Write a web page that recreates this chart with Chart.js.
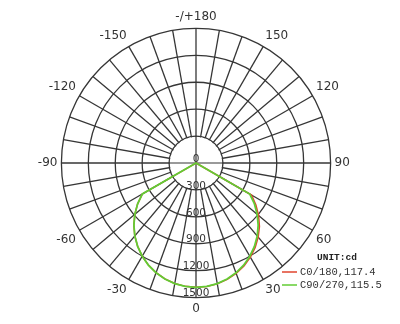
<!DOCTYPE html>
<html>
<head>
<meta charset="utf-8">
<script src="https://cdn.jsdelivr.net/npm/chart.js@4/dist/chart.umd.min.js"></script>
<style>
  body { margin: 0; background: #fff; }
  canvas { display: block; }
</style>
</head>
<body>
<canvas id="Grafico1" width="400" height="324"></canvas>
<script>
// angles clockwise starting at the top of the diagram, every 5 degrees
var angulos = [180, 175, 170, 165, 160, 155, 150, 145, 140, 135, 130, 125,
  120, 115, 110, 105, 100, 95, 90, 85, 80, 75, 70, 65,
  60, 55, 50, 45, 40, 35, 30, 25, 20, 15, 10, 5,
  0, -5, -10, -15, -20, -25, -30, -35, -40, -45, -50, -55,
  -60, -65, -70, -75, -80, -85, -90, -95, -100, -105, -110, -115,
  -120, -125, -130, -135, -140, -145, -150, -155, -160, -165, -170, -175];

var c0_180 = [0, 0, 0, 0, 0, 0, 0, 0, 0, 0, 0, 0,
  0, 0, 0, 0, 0, 0, 0, 0, 0, 0, 0, 0,
  715, 815, 910, 1000, 1078, 1150, 1212, 1265, 1308, 1342, 1368, 1382,
  1385, 1380, 1364, 1338, 1301, 1255, 1199, 1134, 1061, 979, 890, 794,
  690, 0, 0, 0, 0, 0, 0, 0, 0, 0, 0, 0,
  0, 0, 0, 0, 0, 0, 0, 0, 0, 0, 0, 0];

var c90_270 = [0, 0, 0, 0, 0, 0, 0, 0, 0, 0, 0, 0,
  0, 0, 0, 0, 0, 0, 0, 0, 0, 0, 0, 0,
  692, 795, 890, 980, 1062, 1135, 1200, 1256, 1302, 1339, 1365, 1380,
  1385, 1380, 1364, 1338, 1301, 1255, 1199, 1134, 1061, 979, 890, 794,
  690, 0, 0, 0, 0, 0, 0, 0, 0, 0, 0, 0,
  0, 0, 0, 0, 0, 0, 0, 0, 0, 0, 0, 0];

var nomes = ["C0/180,117.4", "C90/270,115.5"];
var unidade = "UNIT:cd";
var escala = [0, 300, 600, 900, 1200, 1500];

var corGrade = "#363636";
var corTexto = "#333";

// hides the spokes inside the first ring, keeps the two axes
var miolo = {
  id: 'miolo',
  beforeDatasetsDraw: function(chart) {
    var r = chart.scales.r;
    var ctx = chart.ctx;
    var raio = r.getDistanceFromCenterForValue(escala[1]);
    ctx.save();
    ctx.fillStyle = "#fff";
    ctx.beginPath();
    ctx.arc(r.xCenter, r.yCenter, raio - 0.8, 0, Math.PI * 2);
    ctx.fill();
    ctx.strokeStyle = corGrade;
    ctx.lineWidth = 1.2;
    ctx.beginPath();
    ctx.moveTo(r.xCenter, r.yCenter - raio);
    ctx.lineTo(r.xCenter, r.yCenter + raio);
    ctx.moveTo(r.xCenter - raio, r.yCenter);
    ctx.lineTo(r.xCenter + raio, r.yCenter);
    ctx.stroke();
    ctx.restore();
  },
  afterDatasetsDraw: function(chart) {
    var r = chart.scales.r;
    var ctx = chart.ctx;
    ctx.save();
    ctx.font = '10.5px "DejaVu Sans"';
    ctx.fillStyle = corTexto;
    ctx.textAlign = "center";
    ctx.textBaseline = "middle";
    escala.forEach(function(v) {
      var d = r.getDistanceFromCenterForValue(v);
      ctx.fillText(String(v), r.xCenter, r.yCenter + d - 4);
    });
    ctx.restore();
  }
};

var legenda = {
  id: 'legenda',
  afterDraw: function(chart) {
    var ctx = chart.ctx;
    ctx.save();
    ctx.textBaseline = "middle";
    ctx.fillStyle = "#222";
    ctx.font = 'bold 9.5px "Liberation Mono"';
    ctx.fillText(unidade, 317, 258);
    chart.data.datasets.forEach(function(ds, i) {
      var y = 272 + i * 13;
      ctx.strokeStyle = ds.borderColor;
      ctx.lineWidth = 1.5;
      ctx.beginPath();
      ctx.moveTo(282, y);
      ctx.lineTo(297, y);
      ctx.stroke();
      ctx.font = '10.5px "Liberation Mono"';
      ctx.fillStyle = corTexto;
      ctx.fillText(ds.label, 300, y);
    });
    ctx.restore();
  }
};

window.onload = function() {
  var ctx = document.getElementById("Grafico1").getContext('2d');
  var myChart = new Chart(ctx, {
    type: 'radar',
    data: {
      labels: angulos,
      datasets: [{
        label: nomes[0],
        data: c0_180,
        borderColor: "#e0452e",
        borderWidth: 1.5,
        fill: false,
        pointRadius: 0,
        order: 1
      }, {
        label: nomes[1],
        data: c90_270,
        borderColor: "#62cc34",
        borderWidth: 1.8,
        fill: false,
        pointRadius: 0,
        order: 0
      }]
    },
    options: {
      responsive: false,
      animation: false,
      layout: { padding: { top: 10, bottom: 8, left: 0, right: 8 } },
      plugins: {
        legend: { display: false },
        tooltip: { enabled: false }
      },
      scales: {
        r: {
          min: 0,
          max: 1500,
          ticks: { stepSize: 300, display: false },
          grid: { color: corGrade, lineWidth: 1.3, circular: true },
          angleLines: {
            lineWidth: 1.3,
            color: function(c) {
              return c.index % 2 === 0 ? corGrade : "rgba(0,0,0,0)";
            }
          },
          pointLabels: {
            color: corTexto,
            padding: 4,
            font: { family: "DejaVu Sans", size: 12 },
            callback: function(label) {
              if (label === 180) return "-/+180";
              return label % 30 === 0 ? String(label) : "";
            }
          }
        }
      }
    },
    plugins: [miolo, legenda]
  });
};
</script>
</body>
</html>
